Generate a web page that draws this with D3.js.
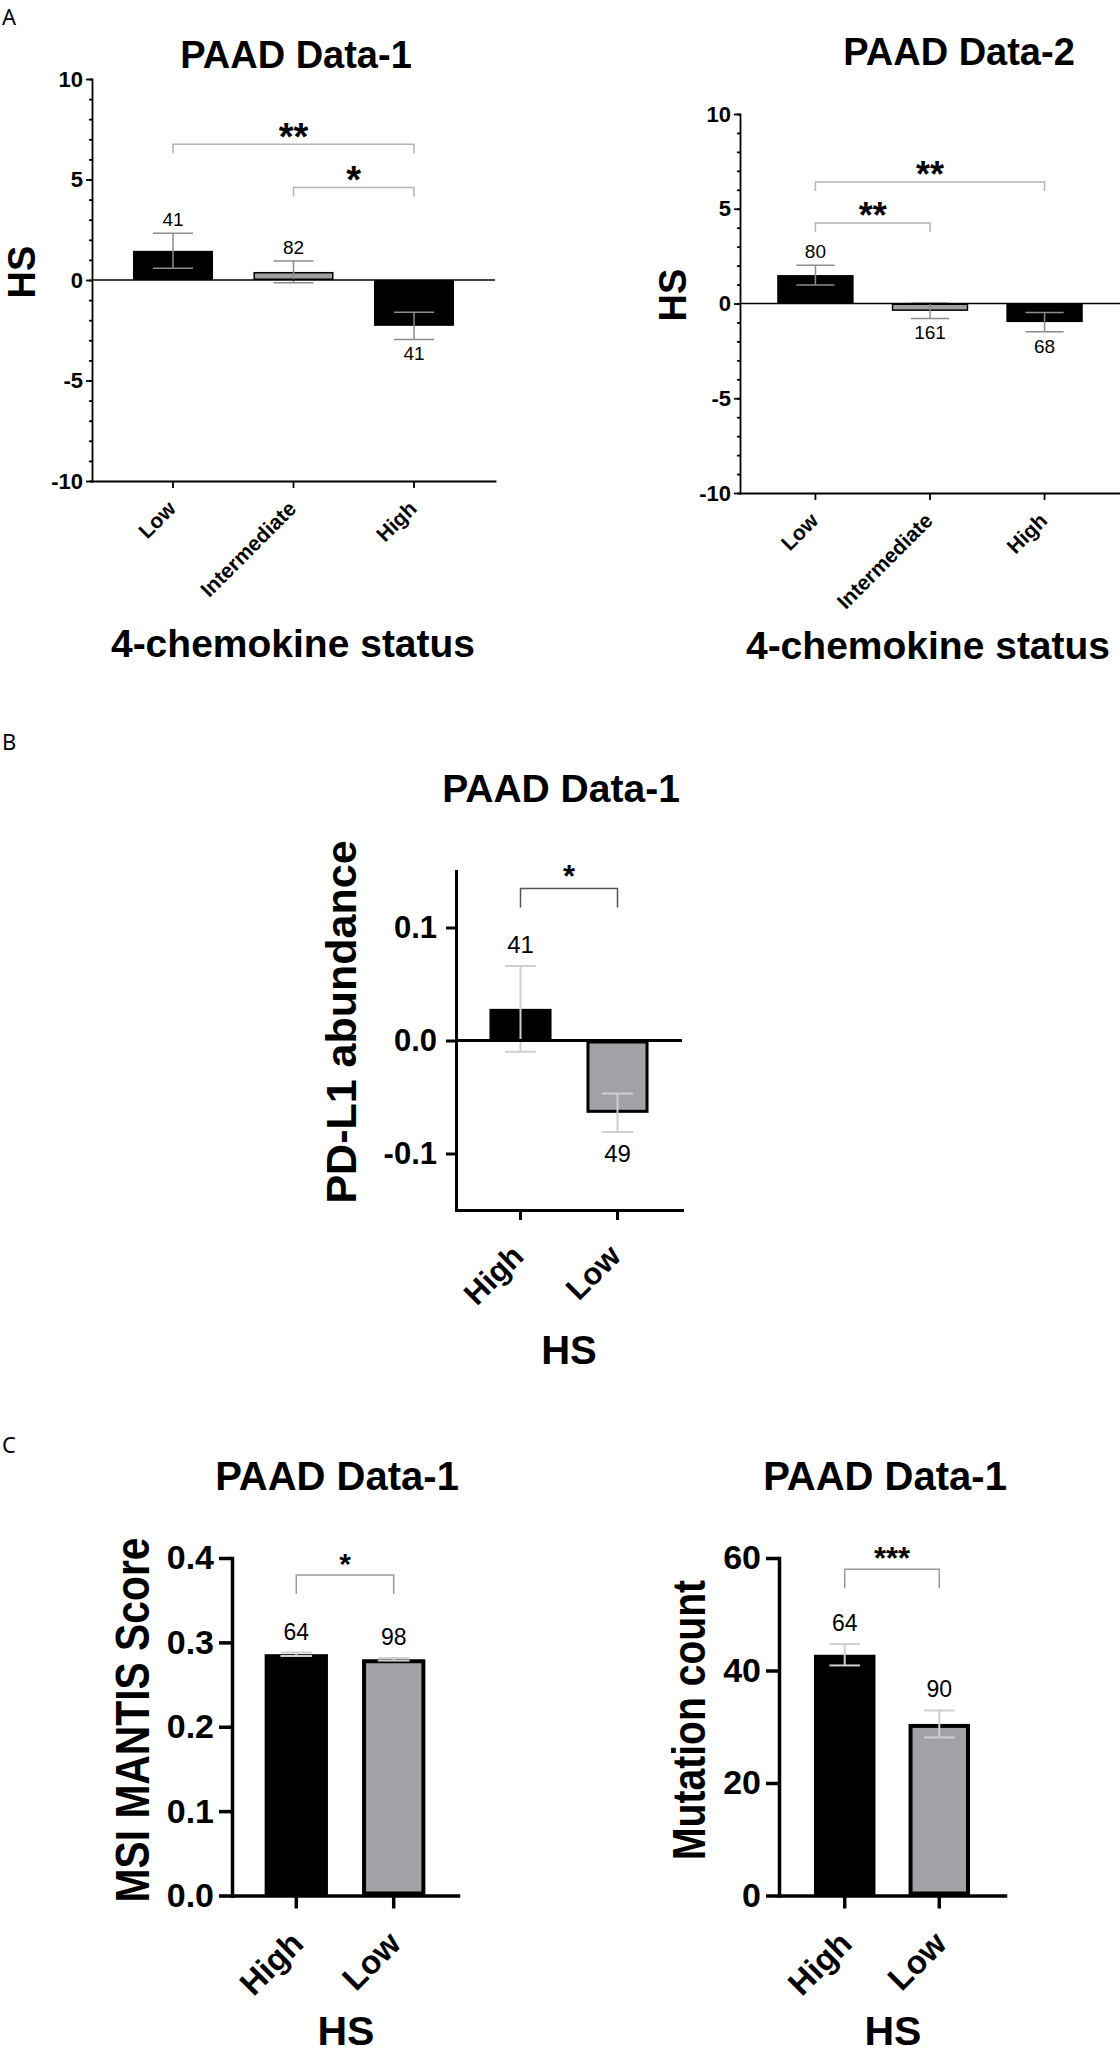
<!DOCTYPE html>
<html>
<head>
<meta charset="utf-8">
<script src="https://cdn.jsdelivr.net/npm/d3@7"></script>
<style>
  body { margin: 0; background: #fff; }
  svg { display: block; }
  text { font-family: "Liberation Sans", Arial, sans-serif; fill: #000; }
</style>
</head>
<body>
<svg id="fig" width="1120" height="2055"></svg>
<script>
// ---- Panel A: HS by 4-chemokine status ----
const chemokineGroups = ['Low', 'Intermediate', 'High'];

const hsData1Mean = [1.45, 0.40, -2.28];
const hsData1Sem = [0.87, 0.54, 0.68];
const hsData1N = [41, 82, 41];
const hsData1Sig = [[0, 2, 6.75, '**'], [1, 2, 4.6, '*']];   // [from, to, level, stars]

const hsData2Mean = [1.50, -0.39, -0.98];
const hsData2Sem = [0.52, 0.40, 0.51];
const hsData2N = [80, 161, 68];
const hsData2Sig = [[0, 2, 6.41, '**'], [0, 1, 4.25, '**']];

const hsTicks = [-10, -5, 0, 5, 10];

// ---- Panel B / C: by HS group ----
const hsGroups = ['High', 'Low'];

const pdl1Mean = [0.028, -0.064];
const pdl1Sem = [0.038, 0.017];
const pdl1N = [41, 49];
const pdl1Sig = [[0, 1, 0.1345, '*']];
const pdl1Ticks = [-0.1, 0, 0.1];

const msiMean = [0.286, 0.280];
const msiSem = [0.002, 0.0015];
const msiN = [64, 98];
const msiSig = [[0, 1, 0.38, '*']];
const msiTicks = [0, 0.1, 0.2, 0.3, 0.4];

const mutMean = [42.8, 30.5];
const mutSem = [1.9, 2.4];
const mutN = [64, 90];
const mutSig = [[0, 1, 58.0, '***']];
const mutTicks = [0, 20, 40, 60];

const svg = d3.select('#fig');

function addText(x, y, str, size, opts = {}) {
  const t = svg.append('text')
    .attr('x', x).attr('y', y)
    .attr('text-anchor', opts.anchor || 'middle')
    .style('font-size', size + 'px')
    .style('font-weight', opts.weight || 'bold')
    .text(str);
  if (opts.family) t.style('font-family', opts.family);
  return t;
}

function addYLabel(cx, cy, str, size, squeeze = 1) {
  const t = svg.append('text')
    .attr('transform', `translate(${cx},${cy}) rotate(-90)`)
    .attr('text-anchor', 'middle')
    .attr('dy', '0.36em')
    .style('font-size', size + 'px')
    .style('font-weight', 'bold')
    .text(str);
  // condensed look: squeeze the glyphs to a shorter run length
  if (squeeze !== 1) {
    const w = t.node().getComputedTextLength();
    t.attr('textLength', w * squeeze).attr('lengthAdjust', 'spacingAndGlyphs');
  }
}

function drawBarPanel(o) {
  const g = svg.append('g');

  const x = d3.scaleBand()
    .domain(o.cats)
    .range([o.left, o.right])
    .paddingInner(o.padIn)
    .paddingOuter(o.padOut);

  const y = d3.scaleLinear()
    .domain(o.domain)
    .range([o.bottom, o.top]);

  const bw = x.bandwidth();
  const cx = c => x(c) + bw / 2;
  const sw = o.barStroke;
  const rows = o.cats.map((c, i) => ({
    cat: c, mean: o.mean[i], err: o.err[i], n: o.n[i], fill: o.fills[i]
  }));

  // bars (inset by half stroke so outer edge sits on the value)
  g.selectAll('rect.bar')
    .data(rows)
    .join('rect')
    .attr('class', 'bar')
    .attr('x', d => x(d.cat) + sw / 2)
    .attr('width', bw - sw)
    .attr('y', d => Math.min(y(d.mean), y(0)) + sw / 2)
    .attr('height', d => Math.max(0, Math.abs(y(d.mean) - y(0)) - sw))
    .attr('fill', d => d.fill)
    .attr('stroke', '#000')
    .attr('stroke-width', sw);

  // error bars
  const eb = g.selectAll('g.err')
    .data(rows)
    .join('g')
    .attr('class', 'err')
    .attr('stroke', o.errColor)
    .attr('stroke-width', o.errWidth);

  eb.append('line')
    .attr('x1', d => cx(d.cat))
    .attr('x2', d => cx(d.cat))
    .attr('y1', d => y(d.mean - d.err))
    .attr('y2', d => y(d.mean + d.err));

  [-1, 1].forEach(s => {
    eb.append('line')
      .attr('x1', d => cx(d.cat) - bw / 4)
      .attr('x2', d => cx(d.cat) + bw / 4)
      .attr('y1', d => y(d.mean + s * d.err))
      .attr('y2', d => y(d.mean + s * d.err));
  });

  // group sizes
  g.selectAll('text.n')
    .data(rows)
    .join('text')
    .attr('class', 'n')
    .attr('x', d => cx(d.cat))
    .attr('y', d => d.mean >= 0 ? y(d.mean + d.err) - o.nAbove : y(d.mean - d.err) + o.nBelow)
    .attr('text-anchor', 'middle')
    .style('font-size', o.nFont + 'px')
    .text(d => d.n);

  // y axis
  const yAxis = g.append('g')
    .attr('transform', `translate(${o.left},0)`)
    .call(d3.axisLeft(y)
      .tickValues(o.yTicks)
      .tickFormat(o.fmt)
      .tickSize(o.tickLen)
      .tickSizeOuter(0)
      .tickPadding(o.tickPad));

  if (o.minor) {
    g.append('g')
      .attr('transform', `translate(${o.left},0)`)
      .call(d3.axisLeft(y).tickValues(o.minor).tickFormat('').tickSize(o.minorLen).tickSizeOuter(0))
      .call(a => a.select('.domain').remove())
      .selectAll('line')
      .attr('stroke', '#000')
      .attr('stroke-width', o.axisWidth);
  }

  // x axis at the bottom of the value range
  const xAxis = g.append('g')
    .attr('transform', `translate(0,${y(o.domain[0])})`)
    .call(d3.axisBottom(x).tickSize(o.xTickLen).tickSizeOuter(0));

  [yAxis, xAxis].forEach(a => {
    a.attr('font-size', null).attr('font-family', null);
    a.selectAll('.domain')
      .attr('stroke', '#000')
      .attr('stroke-width', o.axisWidth)
      .attr('stroke-linecap', 'square');
    a.selectAll('.tick line')
      .attr('stroke', '#000')
      .attr('stroke-width', o.axisWidth);
  });

  yAxis.selectAll('.tick text')
    .style('font-size', o.tickFont + 'px')
    .style('font-weight', 'bold')
    .attr('fill', '#000');

  xAxis.selectAll('.tick text')
    .attr('y', 0)
    .attr('dy', 0)
    .attr('text-anchor', 'end')
    .attr('transform', `translate(${o.xLabelDx},${o.xLabelDy}) rotate(-45)`)
    .style('font-size', o.xLabelFont + 'px')
    .style('font-weight', 'bold')
    .attr('fill', '#000');

  // zero line
  if (o.domain[0] < 0) {
    g.append('line')
      .attr('x1', o.left)
      .attr('x2', o.right)
      .attr('y1', y(0))
      .attr('y2', y(0))
      .attr('stroke', '#000')
      .attr('stroke-width', o.zeroWidth || o.axisWidth);
  }

  // significance brackets
  o.sig.forEach(([a, b, level, label]) => {
    const yl = y(level);
    const x1 = cx(o.cats[a]);
    const x2 = cx(o.cats[b]);
    g.append('path')
      .attr('d', `M${x1},${yl + o.legLen}V${yl}H${x2}V${yl + o.legLen}`)
      .attr('fill', 'none')
      .attr('stroke', o.sigColor)
      .attr('stroke-width', 1.5);
    g.append('text')
      .attr('x', (x1 + x2) / 2)
      .attr('y', yl - o.starGap + 0.56 * o.starSize)
      .attr('text-anchor', 'middle')
      .style('font-size', o.starSize + 'px')
      .style('font-weight', 'bold')
      .text(label);
  });
}

const panelA = {
  cats: chemokineGroups,
  fills: ['#000', '#a0a0a0', '#000'],
  domain: [-10, 10],
  yTicks: hsTicks,
  minor: d3.range(-10, 11),
  minorLen: 3,
  fmt: d => String(d),
  tickLen: 6, tickPad: 3, tickFont: 22,
  axisWidth: 1.8, zeroWidth: 1.6,
  xTickLen: 7, xLabelFont: 21, xLabelDx: 4, xLabelDy: 29,
  padIn: 0.336, padOut: 0.34,
  barStroke: 1.5,
  errColor: '#8c8c8c', errWidth: 1.5,
  nFont: 19, nAbove: 7, nBelow: 21,
  sigColor: '#b4b4b4', legLen: 9, starSize: 38, starGap: 16
};

drawBarPanel({
  ...panelA,
  mean: hsData1Mean, err: hsData1Sem, n: hsData1N, sig: hsData1Sig,
  left: 92, right: 495, top: 79, bottom: 481
});

drawBarPanel({
  ...panelA,
  padIn: 0.333, padOut: 0.325,
  mean: hsData2Mean, err: hsData2Sem, n: hsData2N, sig: hsData2Sig,
  left: 740, right: 1120, top: 114, bottom: 493,
  starSize: 36, starGap: 15
});

drawBarPanel({
  cats: hsGroups,
  fills: ['#000', '#a2a2a6'],
  mean: pdl1Mean, err: pdl1Sem, n: pdl1N, sig: pdl1Sig,
  domain: [-0.15, 0.15],
  yTicks: pdl1Ticks,
  fmt: d => d.toFixed(1),
  left: 456, right: 682, top: 871, bottom: 1210,
  padIn: 0.36, padOut: 0.345,
  tickLen: 10, tickPad: 9, tickFont: 31,
  axisWidth: 3,
  xTickLen: 10, xLabelFont: 31, xLabelDx: 5, xLabelDy: 48,
  barStroke: 3,
  errColor: '#cfcfcf', errWidth: 2,
  nFont: 24, nAbove: 13, nBelow: 30,
  sigColor: '#555', legLen: 19, starSize: 31, starGap: 19
});

const panelC = {
  cats: hsGroups,
  fills: ['#000', '#a2a2a6'],
  top: 1558, bottom: 1895.5,
  tickLen: 13, tickPad: 5, tickFont: 34,
  axisWidth: 3.5,
  xTickLen: 13, xLabelFont: 33, xLabelDx: 9, xLabelDy: 50,
  barStroke: 4,
  errColor: '#cfcfcf', errWidth: 2,
  nFont: 23, nAbove: 13, nBelow: 30,
  sigColor: '#999', legLen: 19, starSize: 30, starGap: 18
};

drawBarPanel({
  ...panelC,
  mean: msiMean, err: msiSem, n: msiN, sig: msiSig,
  domain: [0, 0.4], yTicks: msiTicks, fmt: d => d.toFixed(1),
  left: 232, right: 458, padIn: 0.35, padOut: 0.335
});

drawBarPanel({
  ...panelC,
  mean: mutMean, err: mutSem, n: mutN, sig: mutSig,
  domain: [0, 60], yTicks: mutTicks, fmt: d => String(d),
  left: 779, right: 1005, padIn: 0.35, padOut: 0.37,
  starSize: 31, starGap: 17.5
});

// titles and axis titles
addText(296, 68, 'PAAD Data-1', 38);
addText(959, 65, 'PAAD Data-2', 38);
addText(561, 802, 'PAAD Data-1', 39);
addText(337, 1490, 'PAAD Data-1', 40);
addText(885, 1490, 'PAAD Data-1', 40);

addText(293, 657, '4-chemokine status', 39);
addText(928, 659, '4-chemokine status', 39);
addText(569, 1364, 'HS', 40);
addText(346, 2045, 'HS', 41);
addText(893, 2045, 'HS', 41);

addYLabel(21, 272, 'HS', 38);
addYLabel(672, 295, 'HS', 38);
addYLabel(341, 1022, 'PD-L1 abundance', 43);
addYLabel(132, 1720, 'MSI MANTIS Score', 48, 0.85);
addYLabel(688, 1720, 'Mutation count', 46, 0.85);

// panel letters
const letterFont = '"Noto Sans", "Open Sans", sans-serif';
addText(2, 25, 'A', 22, { anchor: 'start', weight: 'normal', family: letterFont });
addText(2, 750, 'B', 22, { anchor: 'start', weight: 'normal', family: letterFont });
addText(2, 1453, 'C', 22, { anchor: 'start', weight: 'normal', family: letterFont });
</script>
</body>
</html>
